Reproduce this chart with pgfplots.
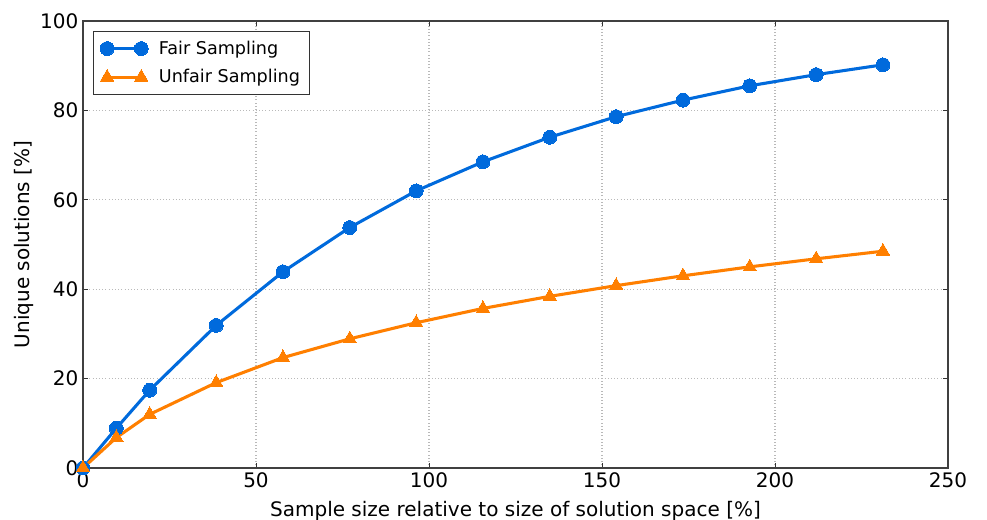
\documentclass[border=0pt]{standalone}
\usepackage{fontspec}
\setmainfont{DejaVu Sans}
\usepackage{pgfplots}
\pgfplotsset{compat=1.18}
\definecolor{fairblue}{RGB}{0,106,220}
\definecolor{unfairorange}{RGB}{255,127,0}
\begin{document}
\begin{tikzpicture}
\path[use as bounding box] (-62.25pt,-38.25pt) rectangle (678pt,351pt);
\begin{axis}[
  at={(0,0)}, anchor=south west,
  scale only axis,
  width=648.75pt, height=335.25pt,
  xmin=0, xmax=250, ymin=0, ymax=100,
  xtick={0,50,...,250}, ytick={0,20,...,100},
  tick align=inside,
  major tick length=4pt,
  tick style={black!80, line width=0.6pt},
  axis line style={black!75, line width=0.8pt},
  grid=major,
  grid style={gray!55, dotted, line width=0.8pt},
  /pgf/number format/assume math mode=true,
  tick label style={font=\fontsize{15}{18}\selectfont},
  label style={font=\fontsize{15}{18}\selectfont},
  xlabel={Sample size relative to size of solution space [\%]},
  ylabel={Unique solutions [\%]},
  xlabel style={yshift=-3pt},
  ylabel style={yshift=-2pt},
  legend cell align=left,
  legend style={at={(0,1)}, anchor=north west, xshift=7.5pt, yshift=-7.5pt,
    font=\fontsize{13.2}{16}\selectfont, draw=black!80, line width=0.8pt,
    inner xsep=5pt, inner ysep=5pt, row sep=6pt, column sep=6pt},
  legend image code/.code={\draw[#1] plot coordinates {(0cm,0cm) (0.9cm,0cm)};},
]
\addplot[color=fairblue, line width=2.3pt, mark=*, mark size=5.2pt, mark options={solid, fill=fairblue, draw=fairblue, line width=0pt}]
coordinates {
(0,0) (9.63,8.9) (19.27,17.4) (38.5,31.9) (57.8,43.9) (77.1,53.8) (96.3,62.0) (115.6,68.5) (134.9,74.0) (154.1,78.6) (173.4,82.3) (192.7,85.5) (211.9,88.0) (231.2,90.2)
};
\addlegendentry{Fair Sampling}
\addplot[color=unfairorange, line width=2.3pt, mark=triangle*, mark size=5.8pt, mark options={solid, fill=unfairorange, draw=unfairorange, line width=0pt}]
coordinates {
(0,0) (9.63,6.8) (19.27,12.0) (38.5,19.1) (57.8,24.7) (77.1,28.9) (96.3,32.5) (115.6,35.7) (134.9,38.4) (154.1,40.8) (173.4,43.0) (192.7,45.0) (211.9,46.8) (231.2,48.5)
};
\addlegendentry{Unfair Sampling}
\end{axis}
\end{tikzpicture}
\end{document}
